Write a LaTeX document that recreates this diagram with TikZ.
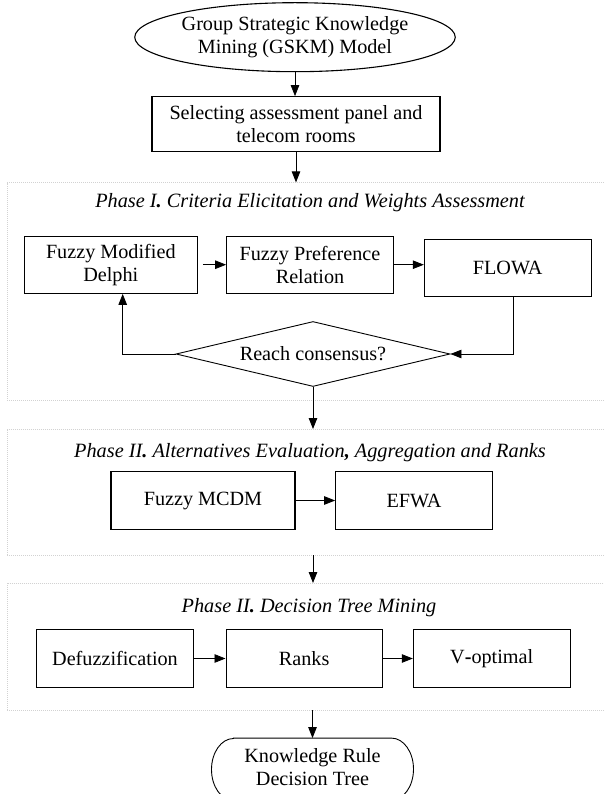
\documentclass[tikz,border=0pt]{standalone}
\usepackage{fontspec}
\setmainfont{Liberation Serif}
\usetikzlibrary{shapes.geometric,arrows.meta}
\begin{document}
\begin{tikzpicture}[x=1pt,y=-1pt,
  every node/.style={font=\fontsize{20.2}{23}\selectfont, align=center, inner sep=0pt},
  box/.style={draw, line width=1.1pt, rectangle},
  frame/.style={draw=gray!35, line width=0.6pt, dash pattern=on 1pt off 1pt, rectangle},
  ttl/.style={font=\fontsize{20.3}{23}\selectfont\itshape},
  arr/.style={line width=0.8pt, -{Triangle[length=11pt,width=8.5pt]}}
]
\useasboundingbox (0,0) rectangle (604,794);
\fill[white] (0,0) rectangle (604,794);

% phase frames
\node[frame, minimum width=602.7pt, minimum height=217.3pt] (p1) at (308.65,291.35) {};
\node[frame, minimum width=602.7pt, minimum height=125.7pt] (p2) at (308.65,492.15) {};
\node[frame, minimum width=602.7pt, minimum height=126.7pt] (p3) at (308.65,646.65) {};

% top
\node[draw, ellipse, line width=1.1pt, minimum width=286pt, minimum height=69pt] (gskm) at (295,37.2) {Group Strategic Knowledge\\Mining (GSKM) Model};
\node[box, minimum width=288pt, minimum height=55pt] (sel) at (296,124.2) {Selecting assessment panel and\\telecom rooms};

% phase I
\node[ttl] (t1) at (310,203) {Phase I\textbf{.} Criteria Elicitation and Weights Assessment};
\node[box, minimum width=173pt, minimum height=57.3pt] (fmd) at (110.8,264.7) {Fuzzy Modified\\Delphi};
\node[box, minimum width=166.6pt, minimum height=57.3pt] (fpr) at (310,264.7) {Fuzzy Preference\\Relation};
\node[box, minimum width=166.7pt, minimum height=57.4pt] (flowa) at (507.7,268) {FLOWA};
\node[draw, diamond, aspect=4.2, line width=0.9pt, minimum width=274pt, minimum height=65pt] (cons) at (313,354) {Reach consensus?};

% phase II
\node[ttl] (t2) at (310,452.3) {Phase II\textbf{.} Alternatives Evaluation\textbf{,} Aggregation and Ranks};
\node[box, minimum width=184pt, minimum height=57.6pt] (mcdm) at (203,500.5) {Fuzzy MCDM};
\node[box, minimum width=156.6pt, minimum height=57.6pt] (efwa) at (414,500.5) {EFWA};

% phase III
\node[ttl] (t3) at (309,608) {Phase II\textbf{.} Decision Tree Mining};
\node[box, minimum width=156.6pt, minimum height=58.4pt] (defz) at (115,658.5) {Defuzzification};
\node[box, minimum width=156.3pt, minimum height=58.4pt] (ranks) at (304.2,658.5) {Ranks};
\node[box, minimum width=156.7pt, minimum height=58.4pt] (vopt) at (491.7,658.5) {V\textbf{-}optimal};

% output terminal
\node[minimum width=201.6pt, minimum height=62pt] (out) at (312.5,769.3) {};
\node (outtxt) at (312.5,767.5) {Knowledge Rule\\Decision Tree};
\draw[line width=0.9pt] ([xshift=22pt]out.north west) -- ([xshift=-22pt]out.north east)
  arc[start angle=90, end angle=-90, x radius=22pt, y radius=31pt]
  -- ([xshift=22pt]out.south west)
  arc[start angle=270, end angle=90, x radius=22pt, y radius=31pt] -- cycle;

% connectors
\draw[arr] (gskm.south) -- (gskm.south |- sel.north);
\draw[arr] (sel.south) -- (sel.south |- p1.north);
\draw[arr, shorten <=5pt] (fmd.east) -- (fpr.west);
\draw[arr] (fpr.east) -- (fpr.east -| flowa.west);
\draw[arr] ([xshift=5.6pt]flowa.south) |- (cons.east);
\draw[arr] (cons.west) -| ([xshift=11.9pt]fmd.south);
\draw[arr] (cons.south) -- (cons.south |- p2.north);
\draw[arr] (mcdm.east) -- (efwa.west);
\draw[arr] (cons.south |- p2.south) -- (cons.south |- p3.north);
\draw[arr] (defz.east) -- (ranks.west);
\draw[arr] (ranks.east) -- (vopt.west);
\draw[arr] (out.north |- p3.south) -- (out.north);
\end{tikzpicture}
\end{document}
